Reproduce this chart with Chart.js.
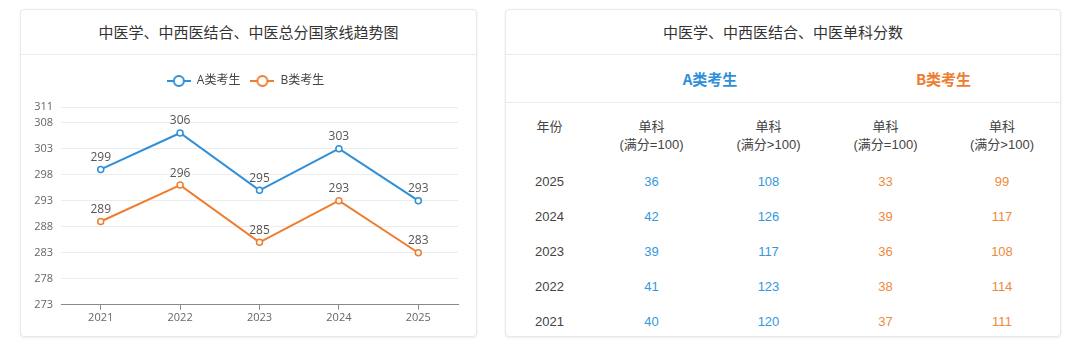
<!DOCTYPE html>
<html lang="zh-CN">
<head>
<meta charset="utf-8">
<script src="https://cdn.jsdelivr.net/npm/chart.js@4.4.1/dist/chart.umd.min.js"></script>
<style>
  html, body { margin:0; padding:0; background:#fff; width:1080px; height:347px; overflow:hidden;
    font-family:"Liberation Sans","Noto Sans CJK SC",sans-serif; color:#333; }
  .card { position:absolute; top:9px; height:328px; background:#fff; border:1px solid #e9e9e9;
    border-radius:4px; box-shadow:0 1px 3px rgba(0,0,0,.07); box-sizing:border-box; overflow:hidden; }
  #trendCard { left:20px; width:457px; }
  #scoreCard { left:505px; width:556px; }
  .card-title { height:44px; line-height:44px; text-align:center; font-size:15px; color:#333;
    border-bottom:1px solid #ebebeb; font-family:"Noto Sans CJK SC",sans-serif; }
  .chart-wrap { position:relative; width:455px; height:281px; }
  table { border-collapse:collapse; table-layout:fixed; width:554px; font-size:13px; }
  td, th { text-align:center; padding:0; }
  .cell { overflow:hidden; }
  .group-row .cell { height:47px; line-height:47px; font-size:15px; font-weight:bold;
    font-family:"Noto Sans CJK SC",sans-serif; }
  .group-row th { border-bottom:1px solid #ebebeb; }
  .head-row .cell { height:61px; box-sizing:border-box; padding-top:15px; font-weight:normal; color:#444; }
  .head-row .cell span { display:block; height:18px; line-height:18px; }
  tbody .cell { height:35px; line-height:35px; color:#444; }
  .blue { color:#2f8fd8; }
  .orange { color:#ee7d2f; }
  tbody .cell.cell-a { color:#3597dc; }
  tbody .cell.cell-b { color:#ef8a3c; }
</style>
</head>
<body>
<div class="card" id="trendCard">
  <div class="card-title">中医学、中西医结合、中医总分国家线趋势图</div>
  <div class="chart-wrap"><canvas id="trendChart"></canvas></div>
</div>
<div class="card" id="scoreCard">
  <div class="card-title">中医学、中西医结合、中医单科分数</div>
  <table>
    <colgroup><col style="width:87px"><col style="width:117px"><col style="width:117px"><col style="width:117px"><col style="width:116px"></colgroup>
    <thead>
      <tr class="group-row"><th><div class="cell"></div></th><th colspan="2"><div class="cell blue">A类考生</div></th><th colspan="2"><div class="cell orange">B类考生</div></th></tr>
      <tr class="head-row" id="headRow"></tr>
    </thead>
    <tbody id="scoreBody"></tbody>
  </table>
</div>
<script>
  // 总分国家线
  const years = ['2021', '2022', '2023', '2024', '2025'];
  const scoreA = [299, 306, 295, 303, 293];
  const scoreB = [289, 296, 285, 293, 283];
  const yTicks = [273, 278, 283, 288, 293, 298, 303, 308, 311];

  // 单科分数（按年份倒序）
  const tableYears = ['2025', '2024', '2023', '2022', '2021'];
  const singleA100 = [36, 42, 39, 41, 40];
  const singleAOver = [108, 126, 117, 123, 120];
  const singleB100 = [33, 39, 36, 38, 37];
  const singleBOver = [99, 117, 108, 114, 111];
  const headLabels = [['年份'], ['单科', '(满分=100)'], ['单科', '(满分>100)'], ['单科', '(满分=100)'], ['单科', '(满分>100)']];

  const BLUE = '#2f8fd8';
  const ORANGE = '#ee7d2f';
  const chartFont = '"Open Sans","Noto Sans CJK SC",sans-serif';

  // ---- table ----
  const esc = s => s.replace(/>/g, '&gt;');
  document.getElementById('headRow').innerHTML = headLabels
    .map(lines => `<th><div class="cell">${lines.map(l => `<span>${esc(l)}</span>`).join('')}</div></th>`).join('');
  document.getElementById('scoreBody').innerHTML = tableYears.map((y, i) => `
    <tr>
      <td><div class="cell">${y}</div></td>
      <td><div class="cell cell-a">${singleA100[i]}</div></td>
      <td><div class="cell cell-a">${singleAOver[i]}</div></td>
      <td><div class="cell cell-b">${singleB100[i]}</div></td>
      <td><div class="cell cell-b">${singleBOver[i]}</div></td>
    </tr>`).join('');

  // ---- legend icon: line with hollow circle ----
  function legendIcon(color) {
    const c = document.createElement('canvas');
    c.width = 24; c.height = 14;
    const g = c.getContext('2d');
    g.strokeStyle = color; g.lineWidth = 2;
    g.beginPath(); g.moveTo(0, 7); g.lineTo(24, 7); g.stroke();
    g.beginPath(); g.arc(12, 7, 5, 0, Math.PI * 2);
    g.fillStyle = '#fff'; g.fill(); g.stroke();
    return c;
  }
  const icons = [legendIcon(BLUE), legendIcon(ORANGE)];

  // value labels above each point
  const pointLabels = {
    id: 'pointLabels',
    afterDatasetsDraw(chart) {
      const ctx = chart.ctx;
      ctx.save();
      ctx.font = '12px ' + chartFont;
      ctx.fillStyle = '#555';
      ctx.textAlign = 'center';
      ctx.textBaseline = 'bottom';
      chart.data.datasets.forEach((ds, di) => {
        chart.getDatasetMeta(di).data.forEach((pt, i) => {
          ctx.fillText(ds.data[i], pt.x, pt.y - 6);
        });
      });
      ctx.restore();
    }
  };

  // extra room under the legend
  const legendGap = {
    id: 'legendGap',
    beforeInit(chart) {
      const fit = chart.legend.fit;
      chart.legend.fit = function () { fit.bind(chart.legend)(); this.height += 10; };
    }
  };

  new Chart(document.getElementById('trendChart'), {
    type: 'line',
    data: {
      labels: years,
      datasets: [
        { label: 'A类考生', data: scoreA, borderColor: BLUE, backgroundColor: '#fff',
          borderWidth: 2, pointRadius: 3, pointBorderWidth: 1.5, pointBackgroundColor: '#fff', tension: 0 },
        { label: 'B类考生', data: scoreB, borderColor: ORANGE, backgroundColor: '#fff',
          borderWidth: 2, pointRadius: 3, pointBorderWidth: 1.5, pointBackgroundColor: '#fff', tension: 0 }
      ]
    },
    options: {
      responsive: true,
      maintainAspectRatio: false,
      animation: false,
      layout: { padding: { top: 10, left: 12, right: 18, bottom: 11 } },
      plugins: {
        tooltip: { enabled: false },
        legend: {
          position: 'top',
          labels: {
            usePointStyle: true,
            pointStyleWidth: 24,
            padding: 10,
            color: '#444',
            font: { size: 12, family: chartFont },
            generateLabels(chart) {
              const items = Chart.defaults.plugins.legend.labels.generateLabels(chart);
              items.forEach((it, i) => { it.pointStyle = icons[i]; });
              return items;
            }
          }
        }
      },
      scales: {
        x: {
          offset: true,
          grid: { display: true, drawOnChartArea: false, drawTicks: true, tickLength: 5, color: '#888' },
          border: { display: true, color: '#888' },
          ticks: { color: '#666', padding: 1, font: { size: 11, family: chartFont } }
        },
        y: {
          min: 273,
          max: 311,
          afterBuildTicks(axis) { axis.ticks = yTicks.map(v => ({ value: v })); },
          afterFit(axis) { axis.width = 28; },
          grid: { color: '#ececec', drawTicks: false },
          border: { display: false },
          ticks: { color: '#666', padding: 8, font: { size: 11, family: chartFont } }
        }
      }
    },
    plugins: [pointLabels, legendGap]
  });
</script>
</body>
</html>
